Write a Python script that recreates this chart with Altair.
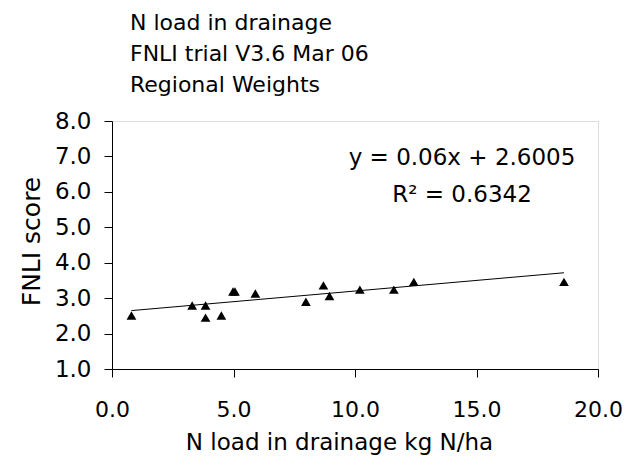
import altair as alt
import pandas as pd

# Data
n_load = [0.8, 3.3, 3.85, 3.85, 4.5, 4.98, 5.06, 5.9, 7.98, 8.7, 8.95, 10.2, 11.6, 12.42, 18.6]
fnli = [2.51, 2.79, 2.79, 2.45, 2.51, 3.19, 3.19, 3.13, 2.90, 3.36, 3.06, 3.24, 3.24, 3.46, 3.46]

slope = 0.06
intercept = 2.6005
eq_text = "y = 0.06x + 2.6005"
r2_text = "R\u00b2 = 0.6342"

title_lines = ["N load in drainage", "FNLI trial V3.6 Mar 06", "Regional Weights"]
x_ticks = [0.0, 5.0, 10.0, 15.0, 20.0]
y_ticks = [1.0, 2.0, 3.0, 4.0, 5.0, 6.0, 7.0, 8.0]

FONT = "DejaVu Sans"

df = pd.DataFrame({"x": n_load, "y": fnli})
trend = pd.DataFrame({"x": [min(n_load), max(n_load)]})

x_enc = alt.X(
    "x:Q",
    scale=alt.Scale(domain=[0, 20], nice=False, zero=False),
    axis=alt.Axis(
        values=x_ticks, tickCount=5, format=".1f", title="N load in drainage kg N/ha",
        grid=False, domainColor="black", tickColor="black", tickSize=8,
        labelFont=FONT, labelFontSize=22, labelColor="black", labelPadding=22,
        labelFlush=False, labelOverlap=False,
        titleFont=FONT, titleFontSize=23, titleFontWeight="normal", titleColor="black",
        titleX=227, titleY=80, titleBaseline="alphabetic", titleAnchor="start", titleAlign="center",
    ),
)
y_enc = alt.Y(
    "y:Q",
    scale=alt.Scale(domain=[1, 8], nice=False, zero=False),
    axis=alt.Axis(
        values=y_ticks, tickCount=8, format=".1f", title="FNLI score",
        grid=False, domainColor="black", tickColor="black", tickSize=8,
        labelFont=FONT, labelFontSize=23, labelColor="black", labelPadding=13,
        labelFlush=False, labelOverlap=False,
        titleFont=FONT, titleFontSize=25, titleFontWeight="normal", titleColor="black",
        titleAngle=270, titleX=-73, titleY=120, titleBaseline="alphabetic", titleAlign="center",
    ),
)

points = alt.Chart(df).mark_point(
    shape="triangle-up", filled=True, color="black", opacity=1, size=95
).encode(x=x_enc, y=y_enc)

line = alt.Chart(trend).mark_line(color="black", strokeWidth=1).transform_calculate(
    y=f"{slope} * datum.x + {intercept}"
).encode(x=x_enc, y=y_enc)

eq = alt.Chart(pd.DataFrame({"t": [eq_text]})).mark_text(
    font=FONT, fontSize=23, color="black", align="center", baseline="alphabetic"
).encode(text="t:N", x=alt.value(350), y=alt.value(44))

r2 = alt.Chart(pd.DataFrame({"t": [r2_text]})).mark_text(
    font=FONT, fontSize=23, color="black", align="center", baseline="alphabetic"
).encode(text="t:N", x=alt.value(350), y=alt.value(81))

chart = alt.layer(line, points, eq, r2).properties(
    width=486,
    height=248,
    padding={"left": 104, "top": 113, "right": 24, "bottom": 88},
    autosize=alt.AutoSizeParams(type="none"),
    title=alt.TitleParams(
        text=title_lines, anchor="start", frame="group", font=FONT, fontSize=22,
        fontWeight="normal", color="black", lineHeight=31, dx=18, offset=13,
    ),
).configure_view(stroke=None).configure(background="white")

chart.save("out.html", embed_options={"renderer": "svg", "actions": False})
